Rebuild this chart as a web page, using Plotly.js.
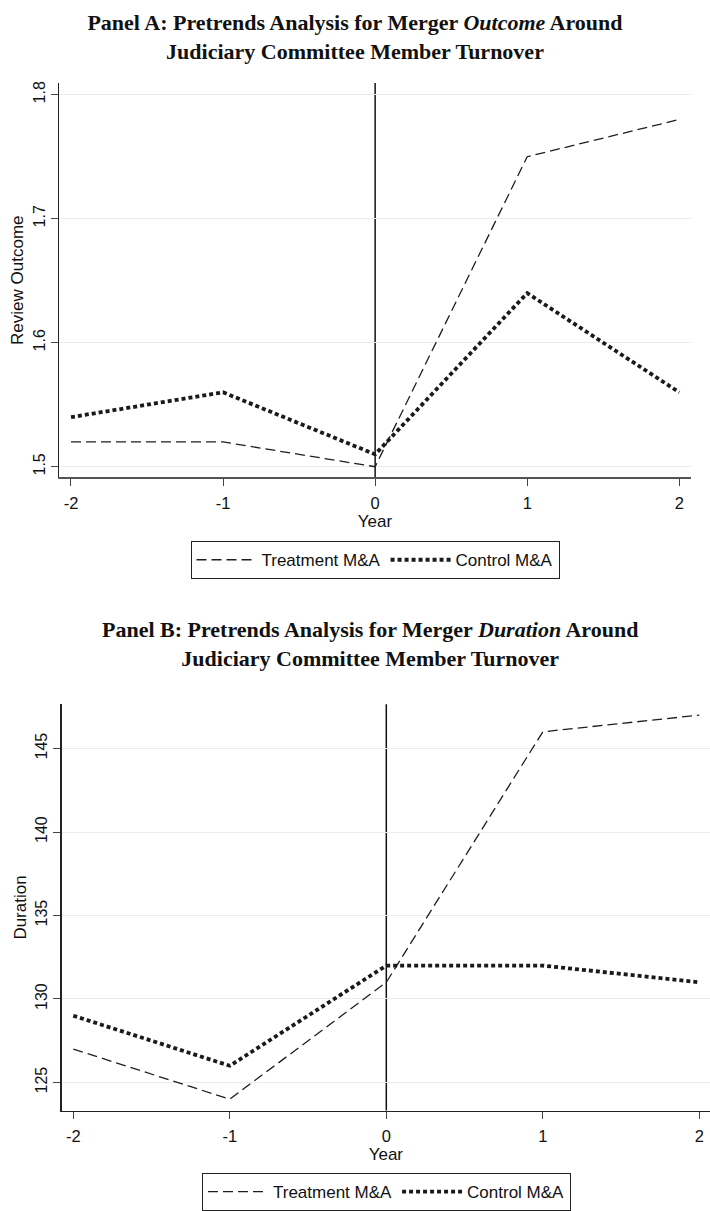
<!DOCTYPE html>
<html>
<head>
<meta charset="utf-8">
<script src="https://cdn.plot.ly/plotly-3.0.1.min.js"></script>
<style>
  html, body { margin: 0; padding: 0; background: #ffffff; }
  #chart { width: 710px; height: 1211px; }
</style>
</head>
<body>
<div id="chart"></div>
<script>
// ---- Data ----
var years = [-2, -1, 0, 1, 2];
var xTickLabels = ['-2', '-1', '0', '1', '2'];

var outcomeTreatment = [1.52, 1.52, 1.50, 1.75, 1.78];
var outcomeControl   = [1.54, 1.56, 1.51, 1.64, 1.56];
var outcomeTicks     = [1.5, 1.6, 1.7, 1.8];
var outcomeTickText  = ['1.5', '1.6', '1.7', '1.8'];

var durationTreatment = [127, 124, 131, 146, 147];
var durationControl   = [129, 126, 132, 132, 131];
var durationTicks     = [125, 130, 135, 140, 145];
var durationTickText  = ['125', '130', '135', '140', '145'];

var seriesNames = ['Treatment M&A', 'Control M&A'];

var titleA = '<b>Panel A: Pretrends Analysis for Merger <i>Outcome</i> Around<br>Judiciary Committee Member Turnover</b>';
var titleB = '<b>Panel B: Pretrends Analysis for Merger <i>Duration</i> Around<br>Judiciary Committee Member Turnover</b>';

// ---- Styles ----
var W = 710, H = 1211;
var sans = 'Liberation Sans, Arial, Helvetica, sans-serif';
var serif = 'Liberation Serif, Times New Roman, serif';
var treatLine = { color: '#1e1e1e', width: 1.3, dash: '10px,5px' };
var ctrlLine  = { color: '#1a1a1a', width: 3.8, dash: '4px,3px' };

var traces = [
  { x: years, y: outcomeTreatment, xaxis: 'x', yaxis: 'y', type: 'scatter', mode: 'lines',
    name: seriesNames[0], line: treatLine, legend: 'legend', hoverinfo: 'x+y' },
  { x: years, y: outcomeControl, xaxis: 'x', yaxis: 'y', type: 'scatter', mode: 'lines',
    name: seriesNames[1], line: ctrlLine, legend: 'legend', hoverinfo: 'x+y' },
  { x: years, y: durationTreatment, xaxis: 'x2', yaxis: 'y2', type: 'scatter', mode: 'lines',
    name: seriesNames[0], line: treatLine, legend: 'legend2', hoverinfo: 'x+y' },
  { x: years, y: durationControl, xaxis: 'x2', yaxis: 'y2', type: 'scatter', mode: 'lines',
    name: seriesNames[1], line: ctrlLine, legend: 'legend2', hoverinfo: 'x+y' }
];

function xAxis(domain, range, anchor, lineColor) {
  return {
    domain: domain, range: range, anchor: anchor,
    tickmode: 'array', tickvals: years, ticktext: xTickLabels,
    ticks: 'outside', ticklen: 7, tickwidth: 1, tickcolor: '#444',
    showline: true, linecolor: lineColor, linewidth: 1.3,
    showgrid: false, zeroline: false,
    ticklabelstandoff: 3,
    tickfont: { family: sans, size: 16.5, color: '#111' },
    title: { text: 'Year', font: { family: sans, size: 17, color: '#111' }, standoff: 0 },
    fixedrange: true
  };
}
function yAxis(domain, range, anchor, tv, tt, titleText) {
  return {
    domain: domain, range: range, anchor: anchor,
    tickmode: 'array', tickvals: tv, ticktext: tt, tickangle: -90,
    ticks: 'outside', ticklen: 7, tickwidth: 1, tickcolor: '#444',
    showline: true, linecolor: '#222', linewidth: 1.3,
    showgrid: true, gridcolor: '#ebebeb', gridwidth: 1, zeroline: false,
    tickfont: { family: sans, size: 16, color: '#111' },
    title: { text: titleText, font: { family: sans, size: 17, color: '#111' }, standoff: 2 },
    fixedrange: true
  };
}

var legendCommon = {
  orientation: 'h', xanchor: 'center', yanchor: 'top',
  bordercolor: '#222', borderwidth: 1, bgcolor: '#ffffff',
  itemwidth: 60,
  font: { family: sans, size: 17, color: '#111' }, itemclick: false, itemdoubleclick: false
};
function mkLegend(x, y) {
  var o = {};
  for (var k in legendCommon) o[k] = legendCommon[k];
  o.x = x; o.y = y;
  return o;
}

var layout = {
  width: W, height: H,
  margin: { l: 0, r: 0, t: 0, b: 0 },
  paper_bgcolor: '#ffffff', plot_bgcolor: '#ffffff',
  font: { family: sans, color: '#111' },
  title: {
    text: titleA, x: 355 / W, xanchor: 'center', xref: 'paper',
    y: 1 - 30 / H, yanchor: 'middle', yref: 'container',
    font: { family: serif, size: 22, color: '#111' }
  },
  xaxis:  xAxis([59.3 / W, 690.7 / W], [-2.0769, 2.075], 'y', '#555'),
  yaxis:  yAxis([(H - 479) / H, (H - 83.3) / H], [1.4914, 1.8094], 'x', outcomeTicks, outcomeTickText, 'Review Outcome'),
  xaxis2: xAxis([61.7 / W, 1.0], [-2.0741, 2.0684], 'y2', '#222'),
  yaxis2: yAxis([(H - 1114.3) / H, (H - 706.7) / H], [123.315, 147.644], 'x2', durationTicks, durationTickText, 'Duration'),
  showlegend: true,
  legend:  mkLegend(375 / W, (H - 543) / H),
  legend2: mkLegend(386.5 / W, (H - 1177) / H),
  shapes: [
    { type: 'line', xref: 'x', yref: 'y domain', x0: 0, x1: 0, y0: 0, y1: 1,
      line: { color: '#111', width: 1.5 }, layer: 'below' },
    { type: 'line', xref: 'x2', yref: 'y2 domain', x0: 0, x1: 0, y0: 0, y1: 1,
      line: { color: '#111', width: 1.5 }, layer: 'below' }
  ],
  annotations: [
    { text: titleB, xref: 'paper', yref: 'paper', x: 370 / W, y: 1 - 646.5 / H,
      xanchor: 'center', yanchor: 'middle', showarrow: false,
      font: { family: serif, size: 22, color: '#111' } }
  ]
};

Plotly.newPlot('chart', traces, layout, { staticPlot: true, displayModeBar: false });
</script>
</body>
</html>
